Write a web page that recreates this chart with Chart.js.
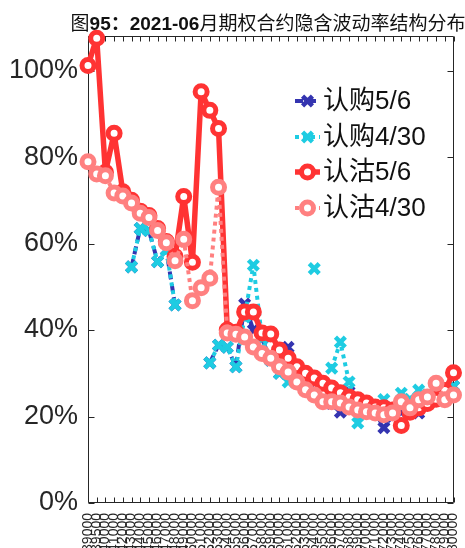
<!DOCTYPE html>
<html>
<head>
<meta charset="utf-8">
<script src="https://cdn.jsdelivr.net/npm/chart.js@4"></script>
<style>
  html, body { margin: 0; padding: 0; background: #fff; }
  #wrap { position: relative; width: 465px; height: 548px; }
  #titulo {
    position: absolute; top: 8px; left: 268px; transform: translateX(-50%);
    white-space: nowrap; font: 19px "Liberation Sans", "Noto Sans CJK SC", sans-serif; color: #111;
  }
</style>
</head>
<body>
<div id="wrap">
  <canvas id="grafico" width="465" height="548"></canvas>
  <div id="titulo">图<b>95：2021-06</b>月期权合约隐含波动率结构分布</div>
</div>
<script>
// strikes (eje x)
const strikes = ["39000","39500","40000","41000","42000","43000","44000","45000","46000","47000",
  "48000","49000","50000","51000","52000","53000","54000","55000","56000","57000",
  "58000","59000","60000","61000","62000","63000","64000","65000","66000","67000",
  "68000","69000","70000","71000","72000","73000","74000","75000","76000","77000",
  "78000","79000","80000"];

// volatilidad implícita en %
const call56 = [null,null,null,null,null,54.6,63.5,63,55.8,58.5,45.8,null,null,null,32.4,36.5,36,31.5,46,40,
  38,33,30,36,31,29,26,24,23,21,25.7,24,22,21,17.4,20,21,22,20.8,23,25,26,27];
const call430 = [null,null,null,null,null,54.6,63.5,63,55.8,58.5,45.8,null,null,null,32.4,36.5,36,31.5,43,55,
  38,33,30,28,null,null,54.2,null,31.2,37.2,28,18.5,22,21,23.9,22,25.4,24,26.1,25,25,26,27];
const put56 = [101.2,107.5,76.5,85.5,72,70,67.5,66.5,63.5,60.5,57,70.9,55.7,95.1,90.8,86.6,40,39.5,44.2,44.2,
  39.3,39.1,35.4,33.5,31.5,30,28.9,27.7,26.6,25.5,24.5,23.9,23.1,22.2,22,21.5,17.9,21,22,23,24,26,30.1];
const put430 = [78.9,76.1,75.7,71.7,71,69.4,67,66,63,60.2,56,61,46.8,49.8,52,73,39.3,39,38.4,36.1,
  34.6,33.5,31.5,30.3,28,26.2,25,23.4,23.4,23.1,22.2,21.5,21.1,20.8,20.4,20.8,23.4,22,23.9,24.5,27.7,23.9,25];

const etiquetas = ["认购5/6", "认购4/30", "认沽5/6", "认沽4/30"];
const colores = ["#3434B0", "#1ECCE2", "#FF3333", "#FF8080"];
const ejeColor = "#262626";

// caja, marcas hacia adentro y leyenda dentro del área
const cajaYLeyenda = {
  id: "cajaYLeyenda",
  beforeDatasetsDraw(chart) {
    const { ctx, chartArea: a, scales } = chart;
    ctx.save();
    ctx.strokeStyle = ejeColor;
    ctx.lineWidth = 1;
    const l = Math.round(a.left) + 0.5, r = Math.round(a.right) - 0.5;
    const t = Math.round(a.top) + 0.5, b = Math.round(a.bottom) - 0.5;
    ctx.beginPath();
    ctx.rect(l, t, r - l, b - t);
    scales.x.ticks.forEach((tk, i) => {
      const x = Math.round(scales.x.getPixelForTick(i)) + 0.5;
      ctx.moveTo(x, b); ctx.lineTo(x, b - 5);
      ctx.moveTo(x, t); ctx.lineTo(x, t + 5);
    });
    scales.y.ticks.forEach((tk) => {
      const y = Math.round(scales.y.getPixelForValue(tk.value)) + 0.5;
      ctx.moveTo(l, y); ctx.lineTo(l + 6, y);
      ctx.moveTo(r, y); ctx.lineTo(r - 6, y);
    });
    ctx.stroke();
    ctx.restore();
  },
  afterDraw(chart) {
    const { ctx } = chart;
    const filas = [101, 137, 172, 208];
    ctx.save();
    chart.data.datasets.forEach((ds, i) => {
      const y = filas[i];
      ctx.strokeStyle = ds.borderColor;
      ctx.lineWidth = ds.borderWidth;
      ctx.setLineDash(ds.borderDash || []);
      ctx.beginPath();
      ctx.moveTo(295, y); ctx.lineTo(320, y);
      ctx.stroke();
      ctx.setLineDash([]);
      ctx.fillStyle = "#fff";
      ctx.lineWidth = ds.pointBorderWidth;
      Chart.helpers.drawPoint(ctx, {
        pointStyle: ds.pointStyle, radius: ds.pointRadius, borderWidth: ds.pointBorderWidth, rotation: 0
      }, 307.5, y);
      ctx.fillStyle = "#111";
      ctx.font = '26px "Liberation Sans", "Noto Sans CJK SC", sans-serif';
      ctx.textBaseline = "middle";
      ctx.fillText(ds.label, 323, y + 1);
    });
    ctx.restore();
  }
};

function serie(i, datos, estilo, orden) {
  const base = {
    label: etiquetas[i],
    data: datos,
    borderColor: colores[i],
    pointBorderColor: colores[i],
    backgroundColor: "#fff",
    pointBackgroundColor: "#fff",
    borderJoinStyle: "round",
    tension: 0,
    spanGaps: false,
    clip: false,
    order: orden,
  };
  return Object.assign(base, estilo);
}

const ctx = document.getElementById("grafico").getContext("2d");
new Chart(ctx, {
  type: "line",
  data: {
    labels: strikes,
    datasets: [
      serie(0, call56, { borderWidth: 4, borderDash: [8, 5], pointStyle: "crossRot", pointRadius: 7, pointBorderWidth: 4.5 }, 4),
      serie(1, call430, { borderWidth: 4, borderDash: [4, 4], pointStyle: "crossRot", pointRadius: 7, pointBorderWidth: 4.5 }, 3),
      serie(2, put56, { borderWidth: 5.5, pointStyle: "circle", pointRadius: 6, pointBorderWidth: 5 }, 2),
      serie(3, put430, { borderWidth: 4, borderDash: [4, 4], pointStyle: "circle", pointRadius: 6, pointBorderWidth: 5 }, 1),
    ],
  },
  options: {
    responsive: false,
    animation: false,
    devicePixelRatio: 1,
    layout: { padding: { left: 0, right: 5, top: 36, bottom: 0 } },
    plugins: {
      legend: { display: false },
      tooltip: { enabled: false },
    },
    scales: {
      x: {
        offset: false,
        grid: { display: false, drawTicks: false },
        border: { display: false },
        ticks: {
          autoSkip: false, maxRotation: 90, minRotation: 90, padding: 10,
          color: ejeColor, font: { family: "Liberation Sans", size: 14 },
        },
        afterFit(scale) {
          scale.height = 45;
          scale.paddingLeft = 0;
          scale.paddingRight = 0;
        },
      },
      y: {
        min: 0,
        max: 108,
        grid: { display: false, drawTicks: false },
        border: { display: false },
        ticks: {
          stepSize: 20, padding: 10, color: ejeColor,
          font: { family: "Liberation Sans", size: 27 },
          callback: (v) => v + "%",
        },
        afterBuildTicks(scale) {
          scale.ticks = scale.ticks.filter((t) => t.value % 20 === 0);
        },
        afterFit(scale) {
          scale.width = 88;
          scale.paddingTop = 0;
          scale.paddingBottom = 0;
        },
      },
    },
  },
  plugins: [cajaYLeyenda],
});
</script>
</body>
</html>
